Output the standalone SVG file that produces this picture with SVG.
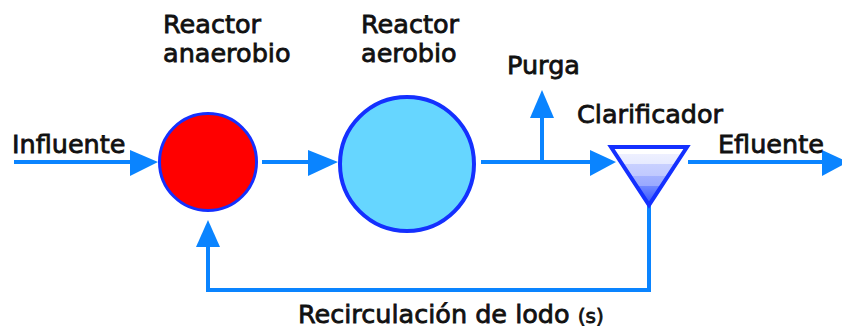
<svg xmlns="http://www.w3.org/2000/svg" width="842" height="329" viewBox="0 0 842 329">
<style>
.t{font-family:"DejaVu Sans",Verdana,sans-serif;font-size:25.5px;fill:#111;stroke:#111;stroke-width:0.8}
.ln{stroke:#0a84ff;stroke-width:4;fill:none}
.ah{fill:#0a84ff}
.node{stroke:#1430ff;stroke-width:4}
</style>
<defs>
<linearGradient id="g" x1="0" y1="0" x2="0" y2="1">
<stop offset="0" stop-color="#ffffff"/>
<stop offset="0.12" stop-color="#ffffff"/>
<stop offset="0.12" stop-color="#eef0ff"/>
<stop offset="0.3" stop-color="#e6eaff"/>
<stop offset="0.3" stop-color="#c8d0ff"/>
<stop offset="0.5" stop-color="#c0c9ff"/>
<stop offset="0.5" stop-color="#a4b2ff"/>
<stop offset="0.68" stop-color="#98a8ff"/>
<stop offset="0.68" stop-color="#7088ff"/>
<stop offset="1" stop-color="#3050ff"/>
</linearGradient>
</defs>
<g id="connectors">
<line class="ln" x1="14" y1="162" x2="135" y2="162"/>
<polygon class="ah" points="130,150 158,162 130,176"/>
<line class="ln" x1="262" y1="162" x2="312" y2="162"/>
<polygon class="ah" points="308,150 338,162 308,176"/>
<line class="ln" x1="481" y1="162" x2="594" y2="162"/>
<polygon class="ah" points="590,150 616,162 590,176"/>
<line class="ln" x1="542" y1="162" x2="542" y2="114"/>
<polygon class="ah" points="530,118 542,90 554,118"/>
<line class="ln" x1="688" y1="162" x2="826" y2="162"/>
<polygon class="ah" points="822,150 848,162 822,176"/>
<polyline class="ln" points="649,205 649,290 208,290 208,243"/>
<polygon class="ah" points="196,247 208,220 220,247"/>
</g>
<g id="anaerobio">
<circle cx="208" cy="162" r="48.5" fill="#ff0000" stroke="#1430ff" stroke-width="3"/>
<text class="t" x="163" y="33">Reactor</text>
<text class="t" x="163" y="62">anaerobio</text>
</g>
<g id="aerobio">
<circle class="node" cx="407" cy="164" r="67" fill="#66d6ff"/>
<text class="t" x="361" y="33">Reactor</text>
<text class="t" x="361" y="62">aerobio</text>
</g>
<g id="clarificador">
<polygon points="611,147 687,147 649,205" fill="url(#g)" stroke="#1430ff" stroke-width="4" stroke-linejoin="miter"/>
<text class="t" x="577" y="123">Clarificador</text>
</g>
<g id="labels">
<text class="t" x="12" y="153">Influente</text>
<text class="t" x="507" y="74">Purga</text>
<text class="t" x="718" y="153">Efluente</text>
<text class="t" x="298" y="323">Recirculación de lodo <tspan font-size="20">(s)</tspan></text>
</g>
</svg>
